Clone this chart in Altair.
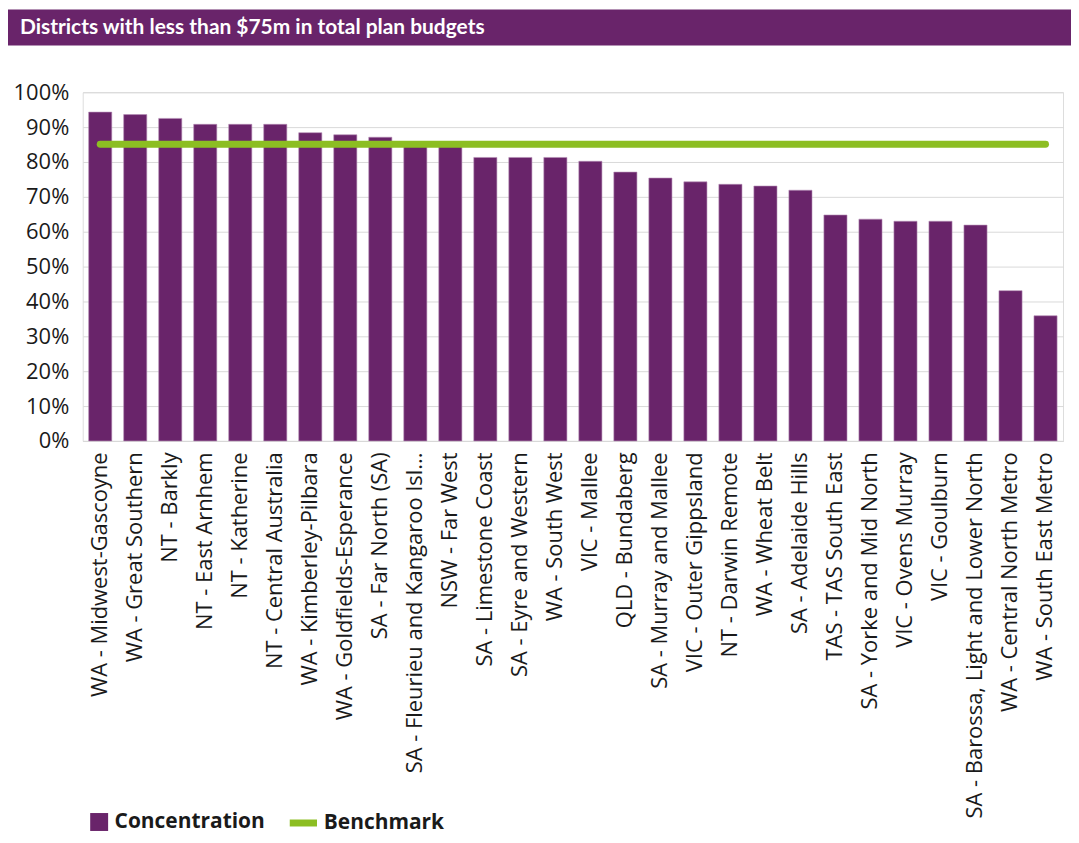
import altair as alt
import pandas as pd

title_text = "Districts with less than $75m in total plan budgets"

districts = [
    "WA - Midwest-Gascoyne", "WA - Great Southern", "NT - Barkly", "NT - East Arnhem",
    "NT - Katherine", "NT - Central Australia", "WA - Kimberley-Pilbara",
    "WA - Goldfields-Esperance", "SA - Far North (SA)", "SA - Fleurieu and Kangaroo Isl...",
    "NSW - Far West", "SA - Limestone Coast", "SA - Eyre and Western", "WA - South West",
    "VIC - Mallee", "QLD - Bundaberg", "SA - Murray and Mallee", "VIC - Outer Gippsland",
    "NT - Darwin Remote", "WA - Wheat Belt", "SA - Adelaide Hills", "TAS - TAS South East",
    "SA - Yorke and Mid North", "VIC - Ovens Murray", "VIC - Goulburn",
    "SA - Barossa, Light and Lower North", "WA - Central North Metro", "WA - South East Metro",
]
concentration = [
    0.943, 0.936, 0.925, 0.908, 0.908, 0.908, 0.884, 0.878, 0.871, 0.856,
    0.853, 0.813, 0.813, 0.813, 0.802, 0.771, 0.754, 0.743, 0.736, 0.731,
    0.719, 0.648, 0.636, 0.630, 0.630, 0.619, 0.431, 0.359,
]
benchmark = [0.851] * len(districts)
y_ticks = [0, 0.1, 0.2, 0.3, 0.4, 0.5, 0.6, 0.7, 0.8, 0.9, 1.0]

PURPLE = "#69246A"
GREEN = "#8CBE22"
FONT = "Open Sans"
TITLE_FONT = "Lato"

df = pd.DataFrame({
    "District": districts,
    "Concentration": concentration,
    "Benchmark": benchmark,
    "s1": ["Concentration"] * len(districts),
    "s2": ["Benchmark"] * len(districts),
})

x_axis = alt.Axis(
    title=None, labelAngle=-90, labelFontSize=22, labelFont=FONT,
    labelColor="#1a1a1a", ticks=False, labelPadding=11, labelLimit=600,
    domainColor="#D9D9D9", labelAlign="right", labelBaseline="middle",
)
y_axis = alt.Axis(
    title=None, format=".0%", values=y_ticks, tickCount=11,
    labelFontSize=22, labelFont=FONT, labelColor="#1a1a1a",
    ticks=False, domain=False, gridColor="#D9D9D9", labelPadding=14,
    labelOverlap=False,
)
x_scale = alt.Scale(paddingInner=0.34, paddingOuter=0.17)
y_scale = alt.Scale(domain=[0, 1])

bars = alt.Chart(df).mark_bar(stroke="#B58DB5", strokeWidth=0.6).encode(
    x=alt.X("District:N", sort=districts, scale=x_scale, axis=x_axis),
    y=alt.Y("Concentration:Q", scale=y_scale, axis=y_axis),
    fill=alt.Fill(
        "s1:N",
        scale=alt.Scale(domain=["Concentration"], range=[PURPLE]),
        legend=alt.Legend(
            orient="none", legendX=6, legendY=722, title=None,
            symbolType="square", symbolSize=324, symbolStrokeWidth=0,
            symbolOpacity=1, labelFontSize=21, labelFont=FONT,
            labelFontWeight="bold", labelColor="#1a1a1a", padding=0,
            labelOffset=5,
        ),
    ),
)

line = alt.Chart(df).mark_line(strokeWidth=7, strokeCap="round").encode(
    x=alt.X("District:N", sort=districts, scale=x_scale, axis=x_axis),
    y=alt.Y("Benchmark:Q", scale=y_scale, axis=y_axis),
    stroke=alt.Stroke(
        "s2:N",
        scale=alt.Scale(domain=["Benchmark"], range=[GREEN]),
        legend=alt.Legend(
            orient="none", legendX=204, legendY=716, title=None,
            symbolType="stroke", symbolSize=750, symbolStrokeWidth=7,
            labelFontSize=21, labelFont=FONT, labelFontWeight="bold",
            labelColor="#1a1a1a", padding=0, labelOffset=3,
        ),
    ),
)

title_df = pd.DataFrame({"t": [title_text]})
title_bar = alt.Chart(title_df).mark_rect(color=PURPLE).encode(
    x=alt.value(-75), x2=alt.value(992), y=alt.value(-83), y2=alt.value(-47)
)
title_label = alt.Chart(title_df).mark_text(
    color="white", font=TITLE_FONT, fontWeight="bold", fontSize=21,
    align="left", baseline="middle",
).encode(x=alt.value(-63), y=alt.value(-64), text="t:N")

chart = alt.layer(title_bar, title_label, bars, line).properties(
    width=984, height=350, padding=0
).configure_view(stroke=None).configure(background="white")

chart.save("out.html", embed_options={"renderer": "svg", "actions": False})
